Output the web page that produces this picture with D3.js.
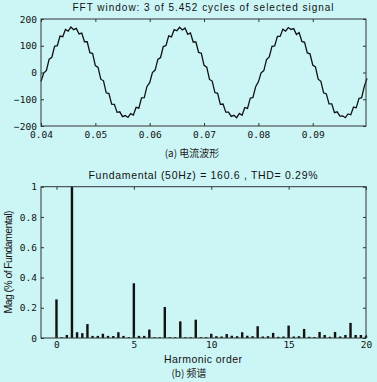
<!DOCTYPE html>
<html>
<head>
<meta charset="utf-8">
<script src="https://cdn.jsdelivr.net/npm/d3@7"></script>
<style>
  body { margin: 0; background: #ccf6f6; }
  svg { display: block; font-family: "Liberation Sans", Arial, sans-serif; }
  .cap { font-family: "Noto Sans CJK SC", sans-serif; }
</style>
</head>
<body>
<script>
// current waveform, sampled every 0.5 ms from t = 0.04 s
const waveStart = 0.04;
const waveStep = 0.0005;
const waveValues = [
  -33, -2, 8, 50, 57, 98, 100, 136, 134, 161, 155, 170, 160, 165, 144, 147, 115, 115, 74, 71,
  26, 19, -25, -31, -76, -79, -118, -119, -149, -147, -165, -161, -168, -154, -159, -130, -133, -95, -94, -52,
  -38, 0, 9, 49, 56, 97, 101, 137, 133, 160, 156, 169, 159, 166, 143, 148, 114, 114, 75, 72,
  27, 20, -26, -32, -75, -78, -119, -118, -148, -148, -164, -160, -169, -153, -160, -131, -134, -96, -93, -53,
  -35, -1, 7, 48, 58, 98, 99, 135, 135, 162, 155, 168, 161, 164, 142, 149, 116, 113, 73, 70,
  28, 21, -25, -33, -76, -80, -117, -117, -150, -147, -163, -162, -169, -155, -158, -129, -132, -97, -94, -51, -22
];
const waveXTicks = [0.04, 0.05, 0.06, 0.07, 0.08, 0.09];
const waveYTicks = [-200, -100, 0, 100, 200];

// spectrum, harmonic order step 1/3
const harmonicOrder = [
  0, 0.33, 0.67, 1, 1.33, 1.67, 2, 2.33, 2.67, 3, 3.33, 3.67, 4, 4.33, 4.67, 5, 5.33, 5.67, 6, 6.33, 6.67,
  7, 7.33, 7.67, 8, 8.33, 8.67, 9, 9.33, 9.67, 10, 10.33, 10.67, 11, 11.33, 11.67, 12, 12.33, 12.67,
  13, 13.33, 13.67, 14, 14.33, 14.67, 15, 15.33, 15.67, 16, 16.33, 16.67, 17, 17.33, 17.67, 18, 18.33, 18.67,
  19, 19.33, 19.67, 20
];
const harmonicMag = [
  0.255, 0.005, 0.02, 1.0, 0.038, 0.032, 0.092, 0.014, 0.014, 0.028, 0.014, 0.013, 0.038, 0.014, 0.005,
  0.362, 0.014, 0.014, 0.056, 0.005, 0.005, 0.205, 0.005, 0.005, 0.11, 0.005, 0.005, 0.121, 0.005, 0.005,
  0.028, 0.012, 0.01, 0.026, 0.015, 0.012, 0.038, 0.015, 0.012, 0.078, 0.01, 0.012, 0.034, 0.008, 0.01,
  0.082, 0.01, 0.012, 0.06, 0.008, 0.006, 0.04, 0.02, 0.008, 0.04, 0.01, 0.02, 0.1, 0.02, 0.02, 0.015
];
const specXTicks = [0, 5, 10, 15, 20];
const specYTicks = [0, 0.2, 0.4, 0.6, 0.8, 1];

const svg = d3.select("body").append("svg")
  .attr("width", 377).attr("height", 382);

// draws a MATLAB-like box with inside ticks on all sides
function box(g, x, y, xt, yt, xfmt, yfmt, xpad) {
  const [x0, x1] = x.range(), [y0, y1] = y.range();
  g.append("g").attr("transform", `translate(0,${y0})`)
    .call(d3.axisBottom(x).tickValues(xt).tickSize(-3).tickSizeOuter(0).tickPadding(xpad).tickFormat(xfmt));
  g.append("g").attr("transform", `translate(0,${y1})`)
    .call(d3.axisTop(x).tickValues(xt).tickSize(-3).tickSizeOuter(0).tickFormat(""));
  g.append("g").attr("transform", `translate(${x0},0)`)
    .call(d3.axisLeft(y).tickValues(yt).tickSize(-3).tickSizeOuter(0).tickPadding(4).tickFormat(yfmt));
  g.append("g").attr("transform", `translate(${x1},0)`)
    .call(d3.axisRight(y).tickValues(yt).tickSize(-3).tickSizeOuter(0).tickFormat(""));
  g.selectAll(".domain").remove();
  g.selectAll(".tick line").attr("stroke", "#333");
  g.selectAll(".tick text").attr("font-size", 9.5).attr("fill", "#111")
    .attr("font-family", "DejaVu Sans Mono, monospace");
  g.append("rect").attr("x", x0).attr("y", y1)
    .attr("width", x1 - x0).attr("height", y0 - y1)
    .attr("fill", "none").attr("stroke", "#333").attr("stroke-width", 1);
}

// ---- (a) waveform
const xa = d3.scaleLinear().domain([0.04, 0.0998]).range([41, 366]);
const ya = d3.scaleLinear().domain([-200, 200]).range([126, 19]);
const ga = svg.append("g");

ga.append("path")
  .datum(waveValues)
  .attr("fill", "none").attr("stroke", "#111").attr("stroke-width", 1.3)
  .attr("d", d3.line().x((d, i) => xa(waveStart + i * waveStep)).y(d => ya(d)));

box(ga, xa, ya, waveXTicks, waveYTicks, d3.format(".2f"), d3.format("d"), 5);

ga.append("text").attr("x", 203).attr("y", 11).attr("text-anchor", "middle")
  .attr("font-size", 10).attr("fill", "#111").attr("textLength", 261)
  .text("FFT window: 3 of 5.452 cycles of selected signal");
ga.append("text").attr("class", "cap").attr("x", 192).attr("y", 157).attr("text-anchor", "middle")
  .attr("font-size", 10).attr("fill", "#222").text("(a)  电流波形");

// ---- (b) spectrum
const xb = d3.scaleLinear().domain([-1, 20]).range([41, 366]);
const yb = d3.scaleLinear().domain([0, 1]).range([338, 186.7]);
const gb = svg.append("g");

gb.selectAll("rect.bar")
  .data(harmonicMag)
  .enter().append("rect").attr("class", "bar")
  .attr("x", (d, i) => xb(harmonicOrder[i]) - 1.2)
  .attr("y", d => yb(d))
  .attr("width", 2.4)
  .attr("height", d => yb(0) - yb(d))
  .attr("fill", "#111");

box(gb, xb, yb, specXTicks, specYTicks, d3.format("d"), d => d3.format("~g")(d), 3);

gb.append("text").attr("x", 203).attr("y", 179).attr("text-anchor", "middle")
  .attr("font-size", 10.5).attr("fill", "#111").attr("textLength", 229)
  .text("Fundamental (50Hz) = 160.6 , THD= 0.29%");
gb.append("text").attr("x", 203).attr("y", 363).attr("text-anchor", "middle")
  .attr("font-size", 10.5).attr("fill", "#111").attr("textLength", 78)
  .text("Harmonic order");
gb.append("text").attr("transform", "translate(12,262) rotate(-90)").attr("text-anchor", "middle")
  .attr("font-size", 10.5).attr("fill", "#111").attr("textLength", 103)
  .text("Mag (% of Fundamental)");
gb.append("text").attr("class", "cap").attr("x", 189).attr("y", 377).attr("text-anchor", "middle")
  .attr("font-size", 10).attr("fill", "#222").text("(b)  频谱");
</script>
</body>
</html>
